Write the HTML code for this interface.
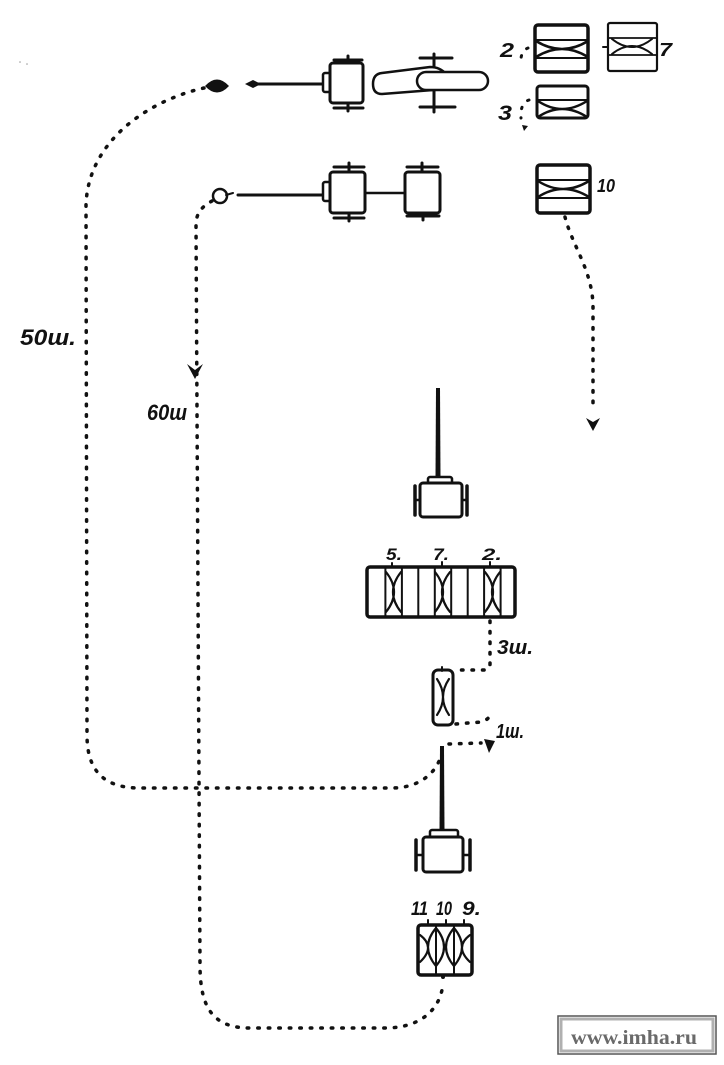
<!DOCTYPE html>
<html><head><meta charset="utf-8">
<style>
html,body{margin:0;padding:0;background:#fff;}
svg{display:block;}
.l{fill:none;stroke:#111;stroke-linecap:round;stroke-linejoin:round;}
.b{fill:#fff;stroke:#111;stroke-linejoin:round;}
.d{fill:none;stroke:#111;stroke-width:3.5;stroke-dasharray:1.5 9;stroke-linecap:round;}
.t{font-family:"Liberation Sans",sans-serif;font-weight:bold;font-style:italic;fill:#111;}
</style></head>
<body>
<svg width="724" height="1065" viewBox="0 0 724 1065" xmlns="http://www.w3.org/2000/svg">
<rect width="724" height="1065" fill="#fff"/>

<circle cx="20" cy="62" r="0.8" fill="#999"/><circle cx="27" cy="64" r="0.8" fill="#999"/>

<!-- ===== Dotted paths ===== -->
<path class="d" d="M204,88 C150,100 88,140 86,205 L87,735 C87,772 105,788 140,788 L392,788 C420,788 438,772 442,752"/>
<path class="d" d="M212,201 C203,206 196,212 196,225 L200,965 C200,1008 213,1028 250,1028 L385,1028 C425,1028 442,1005 443,982"/>
<path d="M187,364 L195,379 L203,364 L195,370 Z" fill="#111"/>
<path class="d" d="M565,217 C572,245 592,270 593,305 L593,410"/>
<path d="M586,418 L593,431 L600,418 L593,422 Z" fill="#111"/>
<path class="d" d="M490,621 L490,664 Q490,670 483,670 L456,670"/>
<path class="d" d="M456,724 L481,722 Q489,720 491,713"/>
<path class="d" d="M449,744 L481,743"/>
<path d="M484,739 L495,741 L489,753 Z" fill="#111"/>
<path class="d" style="stroke-width:3" d="M528,48 Q520,51 521,64"/>
<path class="d" style="stroke-width:3" d="M529,100 Q520,103 521,118"/>
<path d="M522,125 L528,126 L524,131 Z" fill="#111"/>

<!-- ===== Row 1 ===== -->
<path d="M205,86 Q217,73 229,86 Q217,99 205,86 Z" fill="#111"/>
<path d="M245,84 L253,80 L261,84 L253,88 Z" fill="#111"/>
<line class="l" x1="255" y1="84" x2="324" y2="84" stroke-width="3"/>
<line class="l" x1="334" y1="60" x2="362" y2="60" stroke-width="3"/>
<line class="l" x1="348" y1="56" x2="348" y2="64" stroke-width="3"/>
<line class="l" x1="334" y1="108" x2="363" y2="108" stroke-width="3"/>
<line class="l" x1="348" y1="102" x2="348" y2="111" stroke-width="3"/>
<rect class="b" x="323" y="73" width="8" height="19" rx="2" stroke-width="2.5"/>
<rect class="b" x="330" y="63" width="33" height="40" rx="3" stroke-width="3"/>
<!-- airplane -->
<line class="l" x1="420" y1="58" x2="452" y2="58" stroke-width="3"/>
<line class="l" x1="434" y1="54" x2="434" y2="70" stroke-width="3"/>
<line class="l" x1="420" y1="107" x2="455" y2="107" stroke-width="3"/>
<line class="l" x1="434" y1="88" x2="434" y2="112" stroke-width="3"/>
<path class="b" stroke-width="2.5" d="M382,73 L430,67 Q440,67 446,74 L446,89 L382,94 Q373,94 373,84 Q373,74 382,73 Z"/>
<rect class="b" x="417" y="72" width="71" height="18" rx="9" stroke-width="2.5"/>

<!-- ===== Row 2 ===== -->
<circle cx="220" cy="196" r="7" fill="#fff" stroke="#111" stroke-width="2.5"/>
<line class="l" x1="226" y1="195" x2="233" y2="193" stroke-width="2"/>
<line class="l" x1="238" y1="195" x2="324" y2="195" stroke-width="3"/>
<line class="l" x1="334" y1="167" x2="364" y2="167" stroke-width="3"/>
<line class="l" x1="349" y1="163" x2="349" y2="172" stroke-width="3"/>
<line class="l" x1="334" y1="218" x2="364" y2="218" stroke-width="3"/>
<line class="l" x1="349" y1="212" x2="349" y2="221" stroke-width="3"/>
<rect class="b" x="323" y="182" width="8" height="19" rx="2" stroke-width="2.5"/>
<rect class="b" x="330" y="172" width="35" height="41" rx="3" stroke-width="3"/>
<line class="l" x1="365" y1="193" x2="405" y2="193" stroke-width="2.5"/>
<line class="l" x1="407" y1="167" x2="438" y2="167" stroke-width="3"/>
<line class="l" x1="422" y1="163" x2="422" y2="172" stroke-width="3"/>
<line class="l" x1="407" y1="216" x2="439" y2="216" stroke-width="3"/>
<line class="l" x1="423" y1="211" x2="423" y2="220" stroke-width="3"/>
<rect class="b" x="405" y="172" width="35" height="41" rx="3" stroke-width="3"/>

<!-- ===== Top-right boxes ===== -->
<rect class="b" x="535" y="25" width="53" height="47" rx="3" stroke-width="3.5"/>
<line class="l" x1="535" y1="40" x2="588" y2="40" stroke-width="2"/>
<line class="l" x1="535" y1="58" x2="588" y2="58" stroke-width="2"/>
<path class="l" stroke-width="2.5" d="M536,41 Q562,57 588,41 M536,57 Q562,41 588,57"/>
<text class="t" x="500" y="57" font-size="20" textLength="14" lengthAdjust="spacingAndGlyphs">2</text>

<rect class="b" x="608" y="23" width="49" height="48" rx="2" stroke-width="2.2"/>
<line class="l" x1="608" y1="38" x2="657" y2="38" stroke-width="1.8"/>
<line class="l" x1="608" y1="55" x2="657" y2="55" stroke-width="1.8"/>
<path class="l" stroke-width="2" d="M612,39 Q632,55 652,39 M612,54 Q632,38 652,54"/>
<line class="l" x1="603" y1="47" x2="608" y2="47" stroke-width="2"/>
<text class="t" x="659" y="56" font-size="18" textLength="13" lengthAdjust="spacingAndGlyphs">7</text>

<rect class="b" x="537" y="86" width="51" height="32" rx="3" stroke-width="3"/>
<line class="l" x1="537" y1="100" x2="588" y2="100" stroke-width="2"/>
<path class="l" stroke-width="2.5" d="M538,101 Q562,117 587,101 M538,117 Q562,101 587,117"/>
<text class="t" x="498" y="120" font-size="21" textLength="14" lengthAdjust="spacingAndGlyphs">3</text>

<rect class="b" x="537" y="165" width="53" height="48" rx="3" stroke-width="3.5"/>
<line class="l" x1="537" y1="180" x2="590" y2="180" stroke-width="2"/>
<line class="l" x1="537" y1="198" x2="590" y2="198" stroke-width="2"/>
<path class="l" stroke-width="2.5" d="M538,181 Q563,197 589,181 M538,197 Q563,181 589,197"/>
<text class="t" x="597" y="192" font-size="18" textLength="18" lengthAdjust="spacingAndGlyphs">10</text>

<!-- ===== Middle car with pole ===== -->
<path d="M436,388 L440,388 L440.5,477 L435.5,477 Z" fill="#111"/>
<rect class="b" x="428" y="477" width="24" height="7" rx="2" stroke-width="2.5"/>
<rect class="b" x="420" y="483" width="42" height="34" rx="3" stroke-width="3"/>
<line class="l" x1="415" y1="486" x2="415" y2="515" stroke-width="3.5"/>
<line class="l" x1="415" y1="500" x2="420" y2="500" stroke-width="2.5"/>
<line class="l" x1="467" y1="486" x2="467" y2="515" stroke-width="3.5"/>
<line class="l" x1="462" y1="500" x2="467" y2="500" stroke-width="2.5"/>

<text class="t" x="386" y="560" font-size="17" textLength="16" lengthAdjust="spacingAndGlyphs">5.</text>
<text class="t" x="433" y="560" font-size="17" textLength="16" lengthAdjust="spacingAndGlyphs">7.</text>
<text class="t" x="482" y="560" font-size="17" textLength="20" lengthAdjust="spacingAndGlyphs">2.</text>
<line class="l" x1="392" y1="563" x2="392" y2="567" stroke-width="2"/>
<line class="l" x1="442" y1="562" x2="442" y2="567" stroke-width="2"/>
<line class="l" x1="490" y1="562" x2="490" y2="567" stroke-width="2"/>

<rect class="b" x="367" y="567" width="148" height="50" rx="3" stroke-width="3.5"/>
<g class="l" stroke-width="2">
<line x1="385.4" y1="567" x2="385.4" y2="617"/>
<line x1="401.9" y1="567" x2="401.9" y2="617"/>
<line x1="418.3" y1="567" x2="418.3" y2="617"/>
<line x1="434.8" y1="567" x2="434.8" y2="617"/>
<line x1="451.2" y1="567" x2="451.2" y2="617"/>
<line x1="467.7" y1="567" x2="467.7" y2="617"/>
<line x1="484.1" y1="567" x2="484.1" y2="617"/>
<line x1="500.6" y1="567" x2="500.6" y2="617"/>
</g>
<path class="l" stroke-width="2.2" d="M386,572 Q402,592 386,612 M401,572 Q385,592 401,612"/>
<path class="l" stroke-width="2.2" d="M435,572 Q451,592 435,612 M450,572 Q434,592 450,612"/>
<path class="l" stroke-width="2.2" d="M485,572 Q501,592 485,612 M500,572 Q484,592 500,612"/>
<text class="t" x="497" y="654" font-size="20" textLength="36" lengthAdjust="spacingAndGlyphs">3ш.</text>

<rect class="b" x="433" y="670" width="20" height="55" rx="5" stroke-width="3"/>
<line class="l" x1="442" y1="667" x2="442" y2="671" stroke-width="2"/>
<path class="l" stroke-width="2.2" d="M437,679 Q449,697 437,715 M449,679 Q437,697 449,715"/>
<text class="t" x="496" y="738" font-size="20" textLength="28" lengthAdjust="spacingAndGlyphs">1ш.</text>

<path d="M440,746 L444,746 L444.5,830 L439.5,830 Z" fill="#111"/>
<rect class="b" x="430" y="830" width="28" height="8" rx="2" stroke-width="2.5"/>
<rect class="b" x="423" y="837" width="40" height="35" rx="3" stroke-width="3"/>
<line class="l" x1="416" y1="840" x2="416" y2="870" stroke-width="3.5"/>
<line class="l" x1="416" y1="855" x2="423" y2="855" stroke-width="2.5"/>
<line class="l" x1="470" y1="840" x2="470" y2="870" stroke-width="3.5"/>
<line class="l" x1="463" y1="855" x2="470" y2="855" stroke-width="2.5"/>

<text class="t" x="411" y="915" font-size="19" textLength="17" lengthAdjust="spacingAndGlyphs">11</text>
<text class="t" x="436" y="915" font-size="19" textLength="16" lengthAdjust="spacingAndGlyphs">10</text>
<text class="t" x="462" y="915" font-size="19" textLength="19" lengthAdjust="spacingAndGlyphs">9.</text>
<line class="l" x1="428" y1="920" x2="428" y2="925" stroke-width="2"/>
<line class="l" x1="446" y1="920" x2="446" y2="925" stroke-width="2"/>
<line class="l" x1="464" y1="920" x2="464" y2="925" stroke-width="2"/>

<rect class="b" x="418" y="925" width="54" height="50" rx="3" stroke-width="3.5"/>
<line class="l" x1="436" y1="925" x2="436" y2="975" stroke-width="2"/>
<line class="l" x1="454" y1="925" x2="454" y2="975" stroke-width="2"/>
<path class="l" stroke-width="2.2" d="M420,935 Q436,947 420,962 M436,928 Q420,947 436,966 M436,928 Q452,947 436,966 M454,928 Q438,947 454,966 M454,928 Q470,947 454,966 M470,935 Q454,947 470,962"/>
<circle cx="443" cy="977" r="2" fill="#111"/>

<text class="t" x="20" y="345" font-size="22" textLength="56" lengthAdjust="spacingAndGlyphs">50ш.</text>
<text class="t" x="147" y="420" font-size="22" textLength="40" lengthAdjust="spacingAndGlyphs">60ш</text>

<rect x="558" y="1016" width="158" height="38" fill="#fff" stroke="#555" stroke-width="1.5"/>
<rect x="561" y="1019" width="152" height="32" fill="none" stroke="#b0b0b0" stroke-width="3"/>
<text x="571" y="1044" font-family="'Liberation Serif',serif" font-weight="bold" font-size="20" fill="#6a6a6a" textLength="126" lengthAdjust="spacingAndGlyphs">www.imha.ru</text>
</svg>
</body></html>
